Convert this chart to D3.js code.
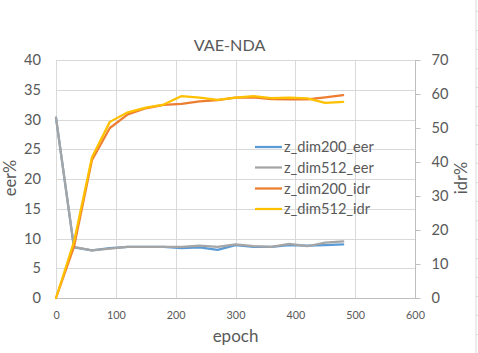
<!DOCTYPE html>
<html><head><meta charset="utf-8">
<script src="https://cdn.jsdelivr.net/npm/d3@7"></script>
<style>body{margin:0;background:#fff;} svg{display:block;font-family:Lato,"Open Sans",sans-serif;}</style>
</head><body>
<svg id="c" width="478" height="353"></svg>
<script>
const epochs = [0,30,60,90,120,150,180,210,240,270,300,330,360,390,420,450,480];
const dim200_eer = [30.3,8.5,8.0,8.4,8.6,8.6,8.6,8.4,8.5,8.1,8.9,8.6,8.6,8.9,8.8,8.9,9.0];
const dim512_eer = [30.3,8.6,8.0,8.3,8.6,8.6,8.6,8.6,8.8,8.6,9.0,8.7,8.6,9.1,8.7,9.3,9.5];
const dim200_idr = [0,15.0,40.5,50.0,54.0,55.8,56.8,57.1,57.8,58.2,58.9,59.0,58.5,58.4,58.4,59.0,59.7];
const dim512_idr = [0,16.5,41.3,51.8,54.6,56.0,56.9,59.4,58.9,58.3,58.9,59.4,58.8,58.9,58.7,57.4,57.7];
const xTicks = [0,100,200,300,400,500,600];
const eerTicks = [0,5,10,15,20,25,30,35,40];
const idrTicks = [0,10,20,30,40,50,60,70];
const seriesNames = ["z_dim200_eer","z_dim512_eer","z_dim200_idr","z_dim512_idr"];
const colors = ["#5b9bd5","#a5a5a5","#ed7d31","#ffc000"];

const svg = d3.select("#c");
const L=56, R=415, T=60, B=298;
const x = d3.scaleLinear().domain([0,600]).range([L,R]);
const yL = d3.scaleLinear().domain([0,40]).range([B,T]);
const yR = d3.scaleLinear().domain([0,70]).range([B,T]);
const txt = "#595959";

// spreadsheet background edge
svg.append("line").attr("x1",476).attr("x2",476).attr("y1",0).attr("y2",353).attr("stroke","#d9d9d9");
d3.range(11.5,353,19).forEach(v=>svg.append("line").attr("x1",476).attr("x2",478).attr("y1",v).attr("y2",v).attr("stroke","#d9d9d9"));

// title
svg.append("text").attr("x",229.5).attr("y",51).attr("text-anchor","middle").attr("fill",txt).attr("font-size",16.2).text("VAE-NDA");

// gridlines
const g = svg.append("g");
g.selectAll(".h").data(eerTicks.slice(1)).join("line").attr("x1",L).attr("x2",R)
  .attr("y1",d=>Math.round(yL(d))+0.5).attr("y2",d=>Math.round(yL(d))+0.5).attr("stroke","#d9d9d9");
g.selectAll(".v").data(xTicks.slice(0,-1)).join("line").attr("y1",T).attr("y2",B)
  .attr("x1",d=>Math.round(x(d))+0.5).attr("x2",d=>Math.round(x(d))+0.5).attr("stroke","#d9d9d9");

// bottom axis
const xa = svg.append("g").attr("transform",`translate(0,${B+0.5})`).call(d3.axisBottom(x).tickValues(xTicks).tickSize(0).tickPadding(13));
xa.select(".domain").attr("stroke","#bfbfbf").attr("d",`M${L},0H${R+5}`);
xa.selectAll("text").attr("fill",txt).attr("font-size",10.8).attr("font-family","Lato");

// left axis
const ya = svg.append("g").attr("transform",`translate(${L},0)`).call(d3.axisLeft(yL).tickValues(eerTicks).tickSize(0).tickPadding(15));
ya.select(".domain").remove();
ya.selectAll("text").attr("fill",txt).attr("font-size",14.6).attr("font-family","Lato");

// right axis
const yra = svg.append("g").attr("transform",`translate(${R+0.5},0)`).call(d3.axisRight(yR).tickValues(idrTicks).tickSize(5).tickPadding(11));
yra.select(".domain").attr("stroke","#bfbfbf").attr("d",`M0,${T}V${B}`);
yra.selectAll("line").attr("stroke","#bfbfbf");
yra.selectAll("text").attr("fill",txt).attr("font-size",14.6).attr("font-family","Lato");

// axis titles
svg.append("text").attr("transform","translate(16,178) rotate(-90)").attr("text-anchor","middle").attr("fill",txt).attr("font-size",16.5).text("eer%");
svg.append("text").attr("transform","translate(467,178) rotate(-90)").attr("text-anchor","middle").attr("fill",txt).attr("font-size",16.5).text("idr%");
svg.append("text").attr("x",235.5).attr("y",342).attr("text-anchor","middle").attr("fill",txt).attr("font-size",17).text("epoch");

// lines
const series = [
  {vals:dim200_eer, y:yL},
  {vals:dim512_eer, y:yL},
  {vals:dim200_idr, y:yR},
  {vals:dim512_idr, y:yR}
];
series.forEach((s,i)=>{
  const line = d3.line().x((d,j)=>x(epochs[j])).y(d=>s.y(d));
  svg.append("path").datum(s.vals).attr("d",line).attr("fill","none")
    .attr("stroke",colors[i]).attr("stroke-width",2.25).attr("stroke-linejoin","round").attr("stroke-linecap","round");
});

// legend
const ly = [147,167.5,188.5,209];
seriesNames.forEach((n,i)=>{
  svg.append("line").attr("x1",255).attr("x2",282).attr("y1",ly[i]).attr("y2",ly[i]).attr("stroke",colors[i]).attr("stroke-width",2.25);
  svg.append("text").attr("x",284).attr("y",ly[i]).attr("dy","0.35em").attr("fill",txt).attr("font-size",14.6).text(n);
});
</script>
</body></html>
